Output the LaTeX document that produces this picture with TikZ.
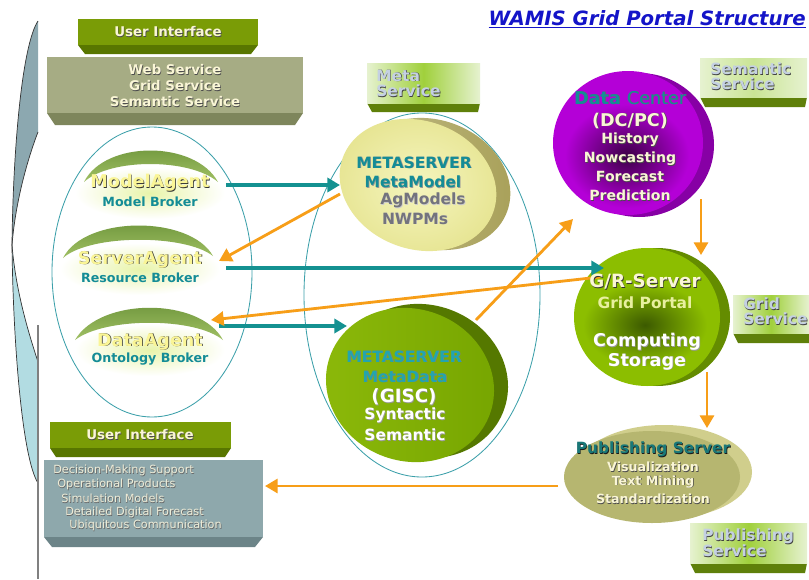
\documentclass[tikz,border=0pt]{standalone}
\usepackage{fontspec}
\setmainfont{DejaVu Sans}
\usetikzlibrary{arrows.meta}

\definecolor{arrowteal}{RGB}{20,145,145}
\definecolor{arroworange}{RGB}{247,158,24}
\definecolor{ellteal}{RGB}{60,160,170}
\definecolor{uigreen}{RGB}{122,156,6}
\definecolor{uigreendark}{RGB}{88,118,0}
\definecolor{webolive}{RGB}{166,172,132}
\definecolor{weboliveside}{RGB}{126,134,92}
\definecolor{infogray}{RGB}{142,168,172}
\definecolor{infograyside}{RGB}{108,132,136}
\definecolor{infotext}{RGB}{238,236,215}
\definecolor{svclight}{RGB}{230,242,208}
\definecolor{svcgreen}{RGB}{160,208,60}
\definecolor{svcside}{RGB}{95,128,10}
\definecolor{svctext}{RGB}{196,208,226}
\definecolor{cream}{RGB}{250,246,214}
\definecolor{bracetop}{RGB}{140,168,176}
\definecolor{bracebot}{RGB}{178,220,226}
\definecolor{titleblue}{RGB}{20,20,200}
\definecolor{labelteal}{RGB}{20,140,150}
\definecolor{agentyellow}{RGB}{250,245,150}
\definecolor{agentglow}{RGB}{232,244,170}
\definecolor{crescentdark}{RGB}{105,145,55}
\definecolor{crescentlight}{RGB}{160,192,100}
\definecolor{mmface}{RGB}{230,228,145}
\definecolor{mmlight}{RGB}{245,245,190}
\definecolor{mmside}{RGB}{168,160,88}
\definecolor{mmgray}{RGB}{115,115,125}
\definecolor{dcpurple}{RGB}{180,0,215}
\definecolor{dcside}{RGB}{135,0,165}
\definecolor{dcdark}{RGB}{60,0,70}
\definecolor{grlime}{RGB}{140,190,0}
\definecolor{grside}{RGB}{100,140,0}
\definecolor{grdark}{RGB}{60,90,0}
\definecolor{grtext}{RGB}{232,240,160}
\definecolor{mdface}{RGB}{118,165,0}
\definecolor{mdlight}{RGB}{140,185,10}
\definecolor{mdside}{RGB}{85,120,0}
\definecolor{mdteal}{RGB}{35,165,175}
\definecolor{pubface}{RGB}{182,182,112}
\definecolor{pubside}{RGB}{208,206,140}
\definecolor{pubteal}{RGB}{25,120,120}

\newcommand\shadowed[2][black!70]{\makebox[0pt][l]{\kern0.5pt\raisebox{-0.5pt}{\textcolor{#1}{#2}}}#2}

\tikzset{
  txt/.style={inner sep=0pt, font=\bfseries\fontsize{#1pt}{#1pt}\selectfont},
  svc/.style={txt=11, anchor=west, text=svctext},
  info/.style={inner sep=0pt, anchor=west, text=infotext, font=\fontsize{8pt}{9pt}\selectfont},
  ring/.style={draw=ellteal, line width=0.6pt},
  tealarrow/.style={draw=arrowteal, line width=2.3pt, -{Triangle[length=9pt,width=10pt]}},
  orangearrow/.style={draw=arroworange, line width=2pt, -{Triangle[length=9pt,width=10pt]}},
}

\begin{document}
\begin{tikzpicture}[x=0.025cm, y=-0.025cm]

\fill[white] (0,0) rectangle (809,579);
\useasboundingbox (0,0) rectangle (809,579);

\node[anchor=base east, inner sep=0pt, text=titleblue, font=\bfseries\itshape\fontsize{14pt}{15pt}\selectfont] (title) at (806,25) {\underline{WAMIS Grid Portal Structure}};

% brace on the left
\fill[bracetop] (38,21) .. controls (22,45) and (13,150) .. (12,245) .. controls (16,195) and (31,150) .. (38,132) -- cycle;
\fill[bracebot] (12,245) .. controls (13,340) and (22,458) .. (38,483) -- (38,362) .. controls (31,340) and (16,295) .. (12,245) -- cycle;
\draw[black!80, line width=0.5pt] (38,21) .. controls (22,45) and (13,150) .. (12,245) .. controls (13,340) and (22,458) .. (38,483);
\draw[black!80, line width=0.5pt] (38,132) .. controls (31,150) and (16,195) .. (12,245) .. controls (16,295) and (31,340) .. (38,362);
\draw[black!50, line width=0.8pt] (38,325) -- (38,579);

% boxes
\fill[uigreendark] (78,45) -- (258,45) -- (251,54) -- (85,54) -- cycle;
\fill[uigreen] (78,19) rectangle (258,45);
\fill[weboliveside] (47,113) -- (303,113) -- (295,125) -- (55,125) -- cycle;
\fill[webolive] (47,57) rectangle (303,113);

\fill[uigreendark] (50,448) -- (231,448) -- (225,457) -- (56,457) -- cycle;
\fill[uigreen] (50,422) rectangle (231,448);
\fill[infograyside] (44,537) -- (263,537) -- (255,547) -- (52,547) -- cycle;
\fill[infogray] (44,460) rectangle (263,537);

\fill[svcside] (367,103) -- (480,103) -- (478,112) -- (372,112) -- cycle;
\shade[left color=svclight, right color=svclight, middle color=svcgreen] (367,63) rectangle (480,103);
\fill[svcside] (700,97) -- (807,97) -- (805,107) -- (705,107) -- cycle;
\shade[left color=svclight, right color=svclight, middle color=svcgreen!40!svclight] (700,58) rectangle (807,97);
\fill[svcside] (733,333) -- (809,333) -- (809,343) -- (738,343) -- cycle;
\shade[left color=svclight, right color=svclight, middle color=svcgreen] (733,295) rectangle (809,333);
\fill[svcside] (690,563) -- (807,563) -- (805,573) -- (695,573) -- cycle;
\shade[left color=svclight, right color=svclight, middle color=svcgreen] (690,523) rectangle (807,563);

% big rings
\draw[ring] (152,272) ellipse [x radius=100, y radius=145];
\draw[ring] (422,295) ellipse [x radius=118, y radius=182];

% agents
\shade[inner color=agentglow, outer color=white] (150,193) ellipse [x radius=75, y radius=26];
\shade[inner color=agentglow, outer color=white] (140,269) ellipse [x radius=80, y radius=26];
\shade[inner color=agentglow, outer color=white] (150,350) ellipse [x radius=75, y radius=26];
\shade[top color=crescentdark, bottom color=crescentlight] (84,182) .. controls (105,140) and (195,140) .. (218,182) .. controls (190,158) and (110,158) .. (84,182) -- cycle;
\shade[top color=crescentdark, bottom color=crescentlight] (63,258) .. controls (85,215) and (190,215) .. (213,256) .. controls (185,234) and (90,234) .. (63,258) -- cycle;
\shade[top color=crescentdark, bottom color=crescentlight] (75,340) .. controls (100,297) and (200,297) .. (223,340) .. controls (195,317) and (105,317) .. (75,340) -- cycle;

% metaserver with models
\shade[left color=mmside!70!white, right color=mmside, rotate around={-20:(432,184)}] (432,184) ellipse [x radius=80, y radius=64];
\shade[inner color=mmlight, outer color=mmface, rotate around={-20:(418,185)}] (418,185) ellipse [x radius=80, y radius=64];

% data center
\fill[dcside] (639,145) ellipse [x radius=75, y radius=72];
\fill[dcpurple] (628,143) ellipse [x radius=75, y radius=72];
\shade[inner color=dcdark, outer color=dcpurple] (627,156) ellipse [x radius=62, y radius=52];

% grid server
\fill[grside] (657,317) ellipse [x radius=73, y radius=69];
\fill[grlime] (647,317) ellipse [x radius=73, y radius=69];
\shade[inner color=grdark, outer color=grlime] (645,325) ellipse [x radius=62, y radius=42];

% metaserver with data
\fill[mdside, rotate around={-20:(424,381)}] (424,381) ellipse [x radius=85, y radius=76];
\shade[left color=mdlight, right color=mdface, rotate around={-20:(410,385)}] (410,385) ellipse [x radius=85, y radius=76];

% publishing server
\fill[pubside] (664,472) ellipse [x radius=88, y radius=47];
\fill[pubface] (652,477) ellipse [x radius=88, y radius=46];

% arrow ends
\coordinate (modelagent-out) at (226,185);
\coordinate (metamodel-in) at (340,185);
\coordinate (serveragent-out) at (226,268);
\coordinate (grserver-in) at (604,268);
\coordinate (dataagent-out) at (219,326);
\coordinate (metadata-in) at (347,326);
\coordinate (metamodel-out) at (340,194);
\coordinate (serveragent-in) at (219,261);
\coordinate (grserver-out) at (600,277);
\coordinate (dataagent-in) at (211,320);
\coordinate (metadata-out) at (476,320);
\coordinate (datacenter-in) at (573,219);
\coordinate (datacenter-out) at (701,199);
\coordinate (grserver-top) at (701,255);
\coordinate (grserver-bottom) at (707,372);
\coordinate (publishing-in) at (707,428);
\coordinate (publishing-out) at (558,486);
\coordinate (infobox-in) at (265,486);

\draw[tealarrow] (modelagent-out) -- (metamodel-in);
\draw[tealarrow] (serveragent-out) -- (grserver-in);
\draw[tealarrow] (dataagent-out) -- (metadata-in);
\draw[orangearrow] (metamodel-out) -- (serveragent-in);
\draw[orangearrow] (grserver-out) -- (dataagent-in);
\draw[orangearrow] (metadata-out) -- (datacenter-in);
\draw[orangearrow] (datacenter-out) -- (grserver-top);
\draw[orangearrow] (grserver-bottom) -- (publishing-in);
\draw[orangearrow] (publishing-out) -- (infobox-in);

% texts
\node[txt=9.5, text=cream] (ui-top) at (168,32) {\shadowed{User Interface}};
\node[txt=9.5, text=cream] (web) at (175,70) {\shadowed{Web Service}};
\node[txt=9.5, text=cream] (grid) at (175,86) {\shadowed{Grid Service}};
\node[txt=9.5, text=cream] (semantic) at (175,102) {\shadowed{Semantic Service}};
\node[txt=9.5, text=cream] (ui-bottom) at (140,435) {\shadowed{User Interface}};

\node[info] (decision) at (53,471) {\shadowed[black!60]{Decision-Making Support}};
\node[info] (operational) at (57,485) {\shadowed[black!60]{Operational Products}};
\node[info] (simulation) at (61,499) {\shadowed[black!60]{Simulation Models}};
\node[info] (detailed) at (65,513) {\shadowed[black!60]{Detailed Digital Forecast}};
\node[info] (ubiquitous) at (69,526) {\shadowed[black!60]{Ubiquitous Communication}};

\node[svc] (meta-svc1) at (376,76) {\shadowed[black!75]{Meta}};
\node[svc] (meta-svc2) at (376,91) {\shadowed[black!75]{Service}};
\node[svc] (sem-svc1) at (710,69) {\shadowed[black!75]{Semantic}};
\node[svc] (sem-svc2) at (710,84) {\shadowed[black!75]{Service}};
\node[svc] (grid-svc1) at (743,304) {\shadowed[black!75]{Grid}};
\node[svc] (grid-svc2) at (743,319) {\shadowed[black!75]{Service}};
\node[svc] (pub-svc1) at (702,537) {\shadowed[black!75]{Publishing}};
\node[svc] (pub-svc2) at (702,551) {\shadowed[black!75]{Service}};

\node[txt=12.5, text=agentyellow] (modelagent) at (150,183) {\shadowed[black!80]{ModelAgent}};
\node[txt=9, text=labelteal] (modelbroker) at (150,202) {Model Broker};
\node[txt=12.5, text=agentyellow] (serveragent) at (140,260) {\shadowed[black!80]{ServerAgent}};
\node[txt=9, text=labelteal] (resourcebroker) at (140,278) {Resource Broker};
\node[txt=12.5, text=agentyellow] (dataagent) at (150,342) {\shadowed[black!80]{DataAgent}};
\node[txt=9, text=labelteal] (ontologybroker) at (150,359) {Ontology Broker};

\node[txt=11, text=labelteal] (mm-title) at (414,163) {\shadowed[black!40]{METASERVER}};
\node[txt=11, text=labelteal] (mm-model) at (413,182) {\shadowed[black!40]{MetaModel}};
\node[txt=11, text=mmgray] (mm-ag) at (423,201) {\shadowed[white!80!black]{AgModels}};
\node[txt=11, text=mmgray] (mm-nwp) at (415,219) {\shadowed[white!80!black]{NWPMs}};

\node[txt=12.5, text=labelteal] (dc-title) at (630,98) {\shadowed[black!60]{Data {\mdseries Center}}};
\node[txt=12.5, text=cream] (dc-dcpc) at (630,121) {\shadowed{(DC/PC)}};
\node[txt=10, text=cream] (dc-history) at (630,140) {\shadowed{History}};
\node[txt=10, text=cream] (dc-nowcast) at (630,159) {\shadowed{Nowcasting}};
\node[txt=10, text=cream] (dc-forecast) at (630,177) {\shadowed{Forecast}};
\node[txt=10, text=cream] (dc-prediction) at (630,196) {\shadowed{Prediction}};

\node[txt=13, text=cream] (gr-title) at (645,282) {\shadowed[black!80]{G/R-Server}};
\node[txt=11, text=grtext] (gr-portal) at (645,303) {Grid Portal};
\node[txt=12.5, text=white] (gr-computing) at (647,342) {\shadowed[black!40]{Computing}};
\node[txt=12.5, text=white] (gr-storage) at (647,362) {\shadowed[black!40]{Storage}};

\node[txt=11, text=mdteal] (md-title) at (404,357) {\shadowed[black!50]{METASERVER}};
\node[txt=11, text=mdteal] (md-data) at (405,377) {\shadowed[black!50]{MetaData}};
\node[txt=13, text=white] (md-gisc) at (404,397) {\shadowed[black!40]{(GISC)}};
\node[txt=11, text=white] (md-syntactic) at (405,416) {\shadowed[black!40]{Syntactic}};
\node[txt=11, text=white] (md-semantic) at (405,435) {\shadowed[black!40]{Semantic}};

\node[txt=11, text=pubteal] (pub-title) at (653,450) {\shadowed[black!90]{Publishing Server}};
\node[txt=9, text=cream] (pub-vis) at (653,467) {\shadowed{Visualization}};
\node[txt=9, text=cream] (pub-text) at (653,482) {\shadowed{Text Mining}};
\node[txt=9, text=cream] (pub-std) at (653,499) {\shadowed{Standardization}};

\end{tikzpicture}
\end{document}
